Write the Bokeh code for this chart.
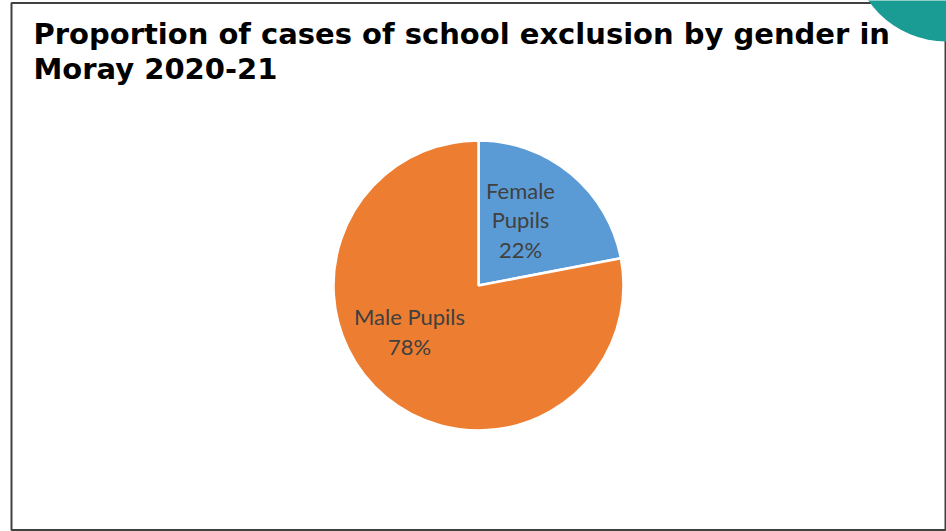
import math
from bokeh.plotting import figure
from bokeh.models import ColumnDataSource
from bokeh.core.properties import value
from bokeh.embed import file_html
from bokeh.resources import INLINE

# ---- data ----
categories = ["Female Pupils", "Male Pupils"]
percentages = [22, 78]
colors = ["#5B9BD5", "#ED7D31"]
label_lines = [["Female", "Pupils"], ["Male Pupils"]]
title_lines = ["Proportion of cases of school exclusion by gender in", "Moray 2020-21"]

W, H = 946, 531
p = figure(width=W, height=H, x_range=(0, W), y_range=(0, H),
           output_backend="svg", toolbar_location=None, min_border=0,
           outline_line_color=None, background_fill_color="white",
           border_fill_color="white")
p.axis.visible = False
p.grid.visible = False

def Y(py):
    return H - py

# frame
p.quad(left=[11], right=[945], bottom=[Y(529.5)], top=[Y(2.5)],
       fill_color=None, line_color="#404040", line_width=2)
# decorative teal circle top-right
p.circle(x=[946], y=[Y(-54)], radius=95, radius_units="screen",
         fill_color="#1a9b94", line_color=None)

# pie
cx, cy, r = 478, Y(285), 145
total = sum(percentages)
starts, ends = [], []
cum = 0.0
for v in percentages:
    a1 = math.pi / 2 - 2 * math.pi * cum / total
    a0 = math.pi / 2 - 2 * math.pi * (cum + v) / total
    starts.append(a0)
    ends.append(a1)
    cum += v
src = ColumnDataSource(dict(start=starts, end=ends, color=colors, cat=categories))
p.wedge(x=cx, y=cy, radius=r, radius_units="screen", start_angle="start", end_angle="end",
        fill_color="color", line_color="white", line_width=2.5, source=src)

# labels (line centres)
anchors = [(520, 189.5), (409, 316)]
lx, ly, lt = [], [], []
for (ax, ay), lines, pct in zip(anchors, label_lines, percentages):
    all_lines = lines + [f"{pct}%"]
    for i, t in enumerate(all_lines):
        lx.append(ax)
        ly.append(Y(ay + i * 29.8))
        lt.append(t)
p.text(x=lx, y=ly, text=lt, text_font=value("Lato"), text_font_size="22px",
       text_color="#404040", text_align="center", text_baseline="middle")

# title (line centres)
p.text(x=[33, 33], y=[Y(33), Y(68.5)], text=title_lines, text_font=value("DejaVu Sans"),
       text_font_style="bold", text_font_size="29px", text_color="black",
       text_align="left", text_baseline="middle")

open("out.html", "w").write(file_html(p, INLINE))
